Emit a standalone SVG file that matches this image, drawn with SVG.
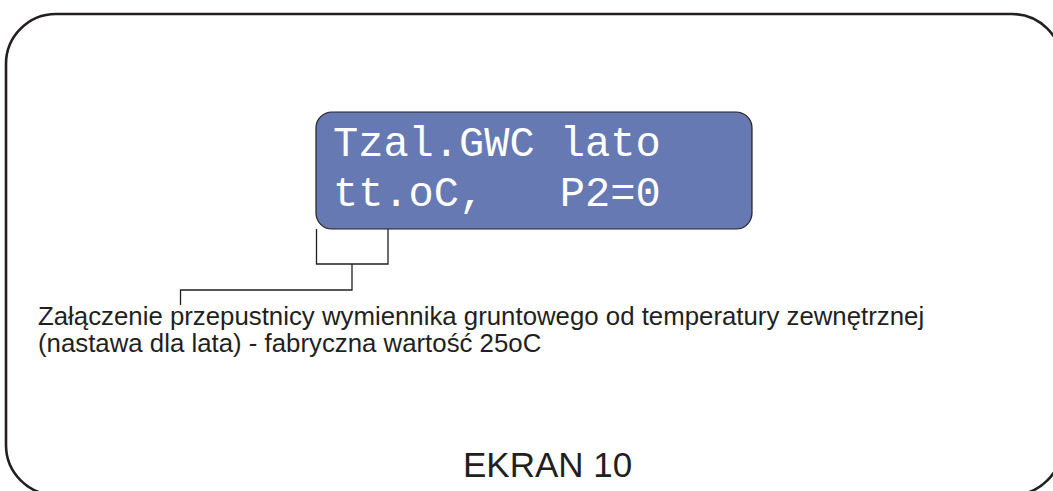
<svg xmlns="http://www.w3.org/2000/svg" width="1053" height="491" viewBox="0 0 1053 491">
<style>
.ln{fill:none;stroke:#231f20;stroke-width:1.3}
.lcd{font-family:"Liberation Mono","Courier New",monospace;font-size:42px;fill:#ffffff}
.lbl{font-family:"Liberation Sans",Arial,sans-serif;font-size:25.8px;fill:#231f20}
</style>
<rect width="1053" height="491" fill="#ffffff"/>
<g id="frame">
<rect x="6" y="14" width="1056" height="481" rx="50" ry="50" fill="none" stroke="#231f20" stroke-width="2.6"/>
</g>
<g id="display">
<rect x="316" y="112" width="436" height="117" rx="16" ry="16" fill="#6679b3" stroke="#231f20" stroke-width="1.2"/>
<text class="lcd" x="333" y="156">Tzal.GWC lato</text>
<text class="lcd" x="333" y="206" xml:space="preserve">tt.oC,   P2=0</text>
</g>
<g id="connectors">
<polyline class="ln" points="316.5,229 316.5,264 388,264 388,229"/>
<polyline class="ln" points="352,264 352,290 180.5,290 180.5,305"/>
</g>
<g id="description">
<text class="lbl" x="38" y="325">Załączenie przepustnicy wymiennika gruntowego od temperatury zewnętrznej</text>
<text class="lbl" x="38" y="352">(nastawa dla lata) - fabryczna wartość 25oC</text>
</g>
<g id="title">
<text x="463" y="477" font-family="Liberation Sans,Arial,sans-serif" font-size="35" fill="#231f20">EKRAN 10</text>
</g>
</svg>
